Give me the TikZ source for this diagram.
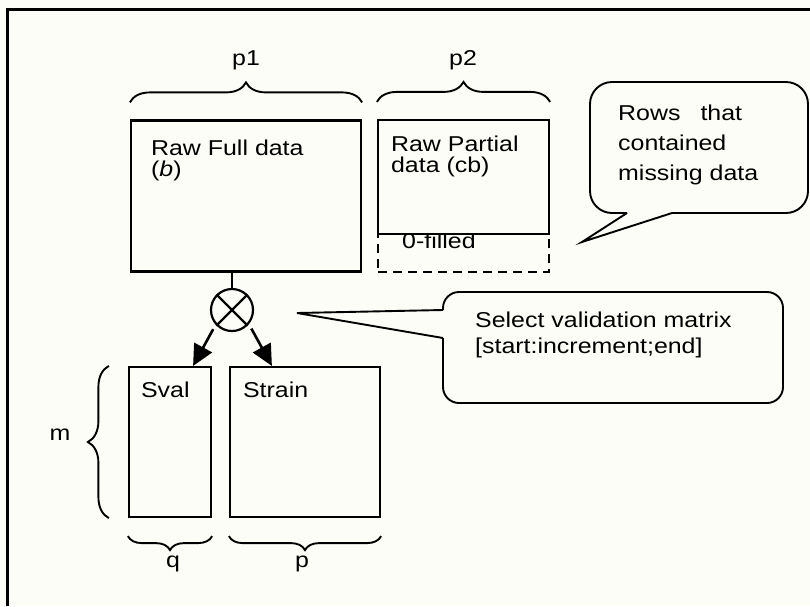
\documentclass[tikz,border=0pt]{standalone}
\usepackage{fontspec}
\setmainfont[FakeStretch=1.16]{Liberation Sans}
\usetikzlibrary{positioning,arrows.meta,decorations.pathreplacing}

\definecolor{paper}{RGB}{253,253,248}

\begin{document}
\begin{tikzpicture}[
  x=1pt, y=-1pt,
  font=\fontsize{21.5}{21}\selectfont,
  block/.style={rectangle, draw, line width=2.2pt, inner sep=0pt},
  txt/.style={inner sep=0pt, align=left},
  brc/.style={decorate, decoration={brace, amplitude=#1}, line width=1.9pt},
  brc/.default=20pt,
  arr/.style={-{Triangle[length=21pt,width=20pt]}, line width=2.6pt},
  callout/.style={line width=1.9pt, rounded corners=#1},
  callout/.default=22pt
]
\useasboundingbox[fill=paper] (0,0) rectangle (810,606);
% frame
\draw[line width=3pt] (7,606) -- (7,9) -- (810,9);

% raw data
\node[block, minimum width=230pt, minimum height=151pt] (rawfull) at (246,196) {};
\node[block, dashed, dash pattern=on 9pt off 6pt, minimum width=171pt, minimum height=38pt] (zerofill) at (463.5,253) {};
\node[txt, anchor=base west] (zerotxt) at (402,248) {0-filled};
\node[block, fill=paper, minimum width=171pt, minimum height=114pt] (rawpart) at (463.5,177) {};
\node[txt, below right=20pt and 21pt of rawfull.north west, font=\fontsize{21.5}{21}\selectfont] (rawfulltxt) {Raw Full data\\(\textit{b})};
\node[txt, below right=17pt and 14pt of rawpart.north west] (rawparttxt) {Raw Partial\\data (cb)};

\draw[brc] ([yshift=17pt]rawfull.north west) -- ([yshift=17pt]rawfull.north east);
\draw[brc] ([yshift=17pt]rawpart.north west) -- ([yshift=17pt]rawpart.north east);
\node[anchor=base] (p1) at (246,65) {p1};
\node[anchor=base] (p2) at (463,65) {p2};

% selection
\node[draw, circle, line width=2.2pt, minimum size=42pt, inner sep=0pt] (mult) at (232,310) {};
\draw[line width=2.2pt] (mult.north east) -- (mult.south west) (mult.north west) -- (mult.south east);
\draw[line width=2pt] (mult.north) -- (mult |- rawfull.south);

% split matrices
\node[block, minimum width=82pt, minimum height=150pt] (sval) at (170,442) {};
\node[block, minimum width=150pt, minimum height=150pt] (strain) at (305,442) {};
\node[txt, below right=16pt and 13pt of sval.north west] (svaltxt) {Sval};
\node[txt, below right=16pt and 14pt of strain.north west] (straintxt) {Strain};

\draw[arr, shorten <=5pt] (mult.222) -- ([xshift=-19pt]sval.north east);
\draw[arr, shorten <=5pt] (mult.320) -- ([xshift=43pt]strain.north west);

\draw[brc=21pt] ([xshift=-19pt]sval.south west) -- ([xshift=-19pt]sval.north west);
\draw[brc=14pt] ([yshift=-18pt]sval.south east) -- ([yshift=-18pt]sval.south west);
\draw[brc=14pt] ([yshift=-18pt]strain.south east) -- ([yshift=-18pt]strain.south west);
\node[anchor=base] (m) at (60,440) {m};
\node[anchor=base] (q) at (173,567) {q};
\node[anchor=base] (p) at (302,567) {p};

% notes
\draw[callout] (627,213) -- (590,213) -- (590,82) -- (808,82) -- (808,213) -- (672,213);
\draw[line width=1.9pt, line join=miter] (672,213) -- (582,242) -- (627,213);
\node[txt, anchor=north west, font=\fontsize{21.5}{30}\selectfont] (rowsnote) at (618,105) {Rows\hspace{20pt}that\\contained\\missing data};

\draw[callout=16pt] (443,310) -- (443,292) -- (783,292) -- (783,403) -- (443,403) -- (443,338);
\draw[line width=1.9pt, line join=miter] (443,338) -- (297,313) -- (443,310);
\node[txt, anchor=north west, font=\fontsize{21.5}{26}\selectfont] (selnote) at (475,312) {Select validation matrix\\{[start:increment;end]}};
\end{tikzpicture}
\end{document}
